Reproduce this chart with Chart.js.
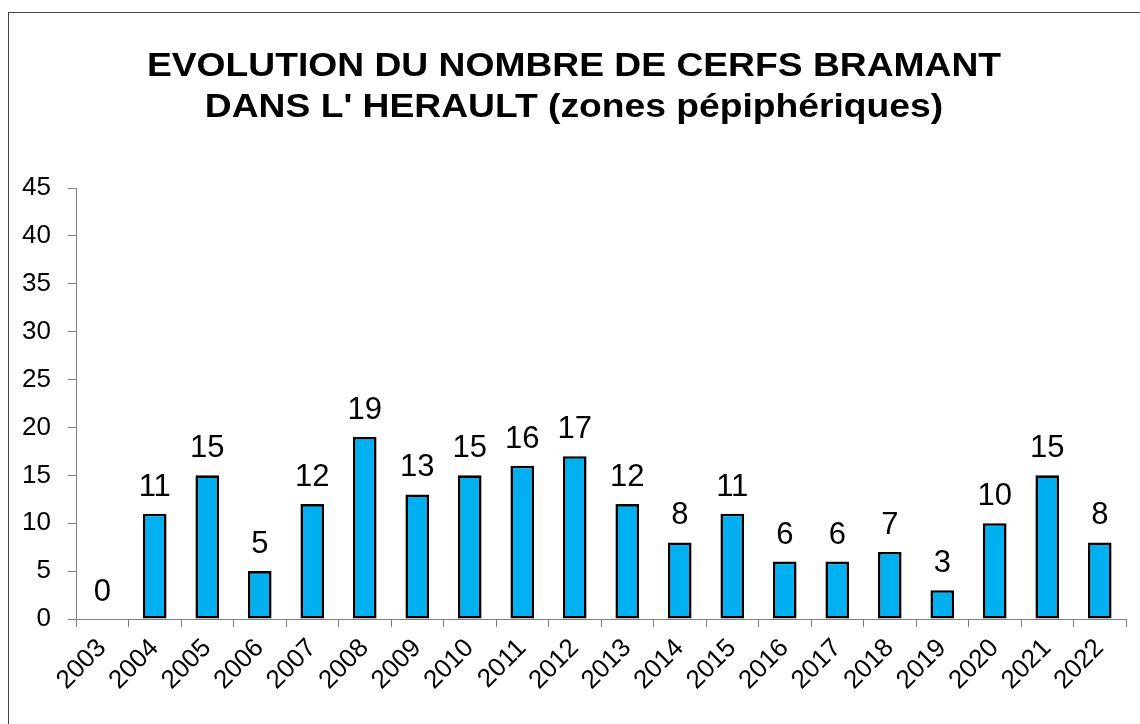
<!DOCTYPE html>
<html><head><meta charset="utf-8">
<script src="https://cdn.jsdelivr.net/npm/chart.js@4/dist/chart.umd.min.js"></script>
<style>
html,body{margin:0;padding:0;background:#fff;overflow:hidden;width:1140px;height:724px;}
#frame{position:absolute;left:8px;top:12px;width:1300px;height:900px;border:1px solid #444;box-sizing:border-box;}
#wrap{position:absolute;left:0;top:0;width:1140px;height:724px;}
</style></head>
<body>
<div id="frame"></div>
<div id="wrap"><canvas id="c" width="1140" height="724"></canvas></div>
<script>
const categories = ['2003','2004','2005','2006','2007','2008','2009','2010','2011','2012','2013','2014','2015','2016','2017','2018','2019','2020','2021','2022'];
const values = [0,11,15,5,12,19,13,15,16,17,12,8,11,6,6,7,3,10,15,8];
const titleLines = ['EVOLUTION DU NOMBRE DE CERFS BRAMANT', "DANS L' HERAULT (zones pépiphériques)"];
const yMin = 0, yMax = 45, yStep = 5;

const FONT = '"Liberation Sans", Arial, sans-serif';

const titlePlugin = {
  id: 'customTitle',
  afterDraw(chart) {
    const ctx = chart.ctx;
    ctx.save();
    ctx.fillStyle = '#000';
    ctx.font = 'bold 34px ' + FONT;
    ctx.textAlign = 'center';
    ctx.textBaseline = 'alphabetic';
    ctx.translate(574, 0);
    ctx.scale(1.095, 1);
    ctx.fillText(titleLines[0], 0, 76);
    ctx.fillText(titleLines[1], 0, 117);
    ctx.restore();
  }
};

const labelPlugin = {
  id: 'valueLabels',
  afterDatasetsDraw(chart) {
    const ctx = chart.ctx;
    const meta = chart.getDatasetMeta(0);
    ctx.save();
    ctx.fillStyle = '#000';
    ctx.font = '31px ' + FONT;
    ctx.textAlign = 'center';
    ctx.textBaseline = 'alphabetic';
    meta.data.forEach((bar, i) => {
      ctx.fillText(String(values[i]), bar.x, bar.y - 18);
    });
    ctx.restore();
  }
};

new Chart(document.getElementById('c'), {
  type: 'bar',
  data: {
    labels: categories,
    datasets: [{
      data: values,
      backgroundColor: '#00B0F0',
      borderColor: '#000',
      borderWidth: 2.6,
      borderSkipped: false,
      barPercentage: 0.9,
      categoryPercentage: 0.5
    }]
  },
  options: {
    responsive: false,
    animation: false,
    devicePixelRatio: 1,
    layout: { padding: { left: 8, right: 14, top: 188, bottom: 0 } },
    plugins: { legend: { display: false }, title: { display: false }, tooltip: { enabled: false } },
    scales: {
      x: {
        offset: true,
        grid: { display: true, drawOnChartArea: false, offset: true, tickLength: 8, color: '#808080', lineWidth: 1 },
        border: { color: '#808080', width: 1 },
        ticks: { color: '#000', font: { family: FONT, size: 26 }, minRotation: 45, maxRotation: 45, padding: 6, autoSkip: false },
        afterFit(scale) { scale.height = 105; }
      },
      y: {
        min: yMin, max: yMax,
        grid: { display: true, drawOnChartArea: false, tickLength: 8, color: '#808080', lineWidth: 1 },
        border: { color: '#808080', width: 1 },
        ticks: { stepSize: yStep, color: '#000', font: { family: FONT, size: 26 }, padding: 17 },
        afterFit(scale) { scale.width = 68; }
      }
    }
  },
  plugins: [titlePlugin, labelPlugin]
});
</script>
</body></html>
